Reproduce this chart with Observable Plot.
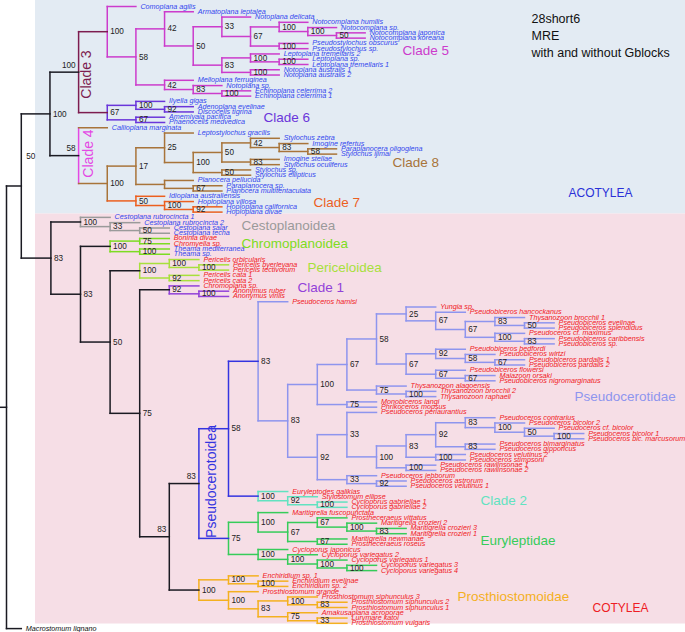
<!DOCTYPE html>
<html><head><meta charset="utf-8">
<script src="https://cdn.jsdelivr.net/npm/d3@7"></script>
<script src="https://cdn.jsdelivr.net/npm/@observablehq/plot@0.6"></script>
<style>html,body{margin:0;padding:0;background:#fff;}#chart svg{display:block;}</style>
</head><body><div id="chart"></div>
<script>
// ---------------- DATA: tree topology (Newick pieces, support values, clade tags) ----------------
const clade5 = "(Comoplana_agilis,((Armatoplana_leptalea,((Notoplana_delicata,((Notocomplana_humilis,(Notocomplana_sp.,(Notocomplana_japonica,Notocomplana_koreana)50)100)100,(Pseudostylochus_obscurus,Pseudostylochus_sp.)100)67)33,((Leptoplana_tremellaris_2,(Leptoplana_sp.,Leptoplana_tremellaris_1)100)100,(Notoplana_australis_1,Notoplana_australis_2)100)83)50)42,(Melloplana_ferruginea,(Notoplana_sp.,(Echinoplana_celerrima_2,Echinoplana_celerrima_1)100)83)42)58)100@clade5";
const clade6 = "((Ilyella_gigas,(Adenoplana_evelinae,Discocelis_tigrina)92)100,(Amemiyaia_pacifica,Phaenocelis_medvedica)67)67@clade6";
const clade8 = "((Leptostylochus_gracilis,(((Stylochus_zebra,(Imogine_refertus,(Paraplanocera_oligoglena,Stylochus_ijimai)58)83)42,(Imogine_stellae,Stylochus_oculiferus)83)50,(Stylochus_sp.,Stylochus_ellipticus)50)100)25,(Planocera_pellucida,(Paraplanocera_sp.,Planocera_multitentaculata)67))17@clade8";
const clade7 = "(Idioplana_australiensis,(Hoploplana_villosa,(Hoploplana_californica,Hoploplana_divae)92)100)50@clade7";
const acotylea = `((${clade5},${clade6})100@clade3,(Callioplana_marginata,(${clade8},${clade7})100)58@clade4)100@aco`;

const cestoplanoidea = "(Cestoplana_rubrocincta_1,(Cestoplana_rubrocincta_2,(Cestoplana_salar,Cestoplana_techa)50)33)100@cesto";
const chromoplanoidea = "((Boninia_divae,Chromyella_sp.)75,(Theama_mediterranea,Theama_sp.)100@theama)100@chromo";
const periceloidea = "((Pericelis_orbicularis,(Pericelis_byerleyana,Pericelis_tectivorum)100)100,(Pericelis_cata_1,Pericelis_cata_2)92)100@peric";
const clade1 = "(Chromoplana_sp.,(Anonymus_ruber,Anonymus_virilis)100)92@clade1";
const pb67h = "((Thysanozoon_brocchii_1,(Pseudobiceros_evelinae,Pseudobiceros_splendidus)50)83,(Pseudoceros_cf._maximus,(Pseudobiceros_caribbensis,Pseudobiceros_sp.)83)100)67";
const pb67f = "((Pseudobiceros_bedfordi,(Pseudobiceros_wirtzi,(Pseudobiceros_pardalis_1,Pseudobiceros_pardalis_2)67)58)92,(Pseudobiceros_flowersi,(Maiazoon_orsaki,Pseudobiceros_nigromarginatus)67)67)67";
const pb58 = `((Yungia_sp.,(Pseudobiceros_hancockanus,${pb67h})67)25,${pb67f})58`;
const pb100 = `((${pb58},(Thysanozoon_alagoensis,(Thysanozoon_brocchii_2,Thysanozoon_raphaeli)100)75)67,(Monobiceros_langi,Phrikoceros_mopsus)75)100`;
const ps92 = "((Pseudoceros_contrarius,(Pseudoceros_bicolor_2,(Pseudoceros_cf._bicolor,(Pseudoceros_bicolor_1,Pseudoceros_bic._marcusorum)100)50)100)83,(Pseudoceros_bimarginatus,Pseudoceros_gipporicus)83)92";
const ps33a = `(Pseudoceros_periaurantius,((${ps92},(Pseudoceros_velutinus_2,Pseudoceros_stimpsoni)100)83,(Pseudoceros_rawlinsonae_1,Pseudoceros_rawlinsonae_2)100)100)33`;
const ps33b = "(Pseudoceros_jebborum,(Pseudoceros_astrorum,Pseudoceros_velutinus_1)92)33";
const pseudocerotidae = `(Pseudoceros_hamisi,(${pb100},(${ps33a},${ps33b})92)83)83@pcidae`;
const clade2 = "(Euryleptodes_galikias,(Stylostomum_ellipse,(Cycloporus_gabriellae_1,Cycloporus_gabriellae_2)100)92)100@clade2";
const euryleptidae = "((Maritigrella_fuscopunctata,((Prostheceraeus_vittatus,(Maritigrella_crozieri_2,(Maritigrella_crozieri_3,Maritigrella_crozieri_1)83)100)67,(Maritigrella_newmanae,Prostheceraeus_roseus)67)67)100,(Cycloporus_japonicus,(Cycloporus_variegatus_2,(Cycloporus_variegatus_1,(Cycloporus_variegatus_3,Cycloporus_variegatus_4)100)100)100)100)75@eury";
const prosthiostomoidae = "((Enchiridium_sp._1,(Enchiridium_evelinae,Enchiridium_sp._2)100)100,(Prosthiostomum_grande,((Prosthiostomum_siphunculus_3,(Prosthiostomum_siphunculus_2,Prosthiostomum_siphunculus_1)83)100,(Amakusaplana_acroporae,(Lurymare_katoi,Prosthiostomum_vulgaris)33)75)83)100)100@prost";
const pseudocerotoidea = `((${pseudocerotidae},${clade2})58,${euryleptidae})83@pcoidea`;
const cotylea = `(${cestoplanoidea},(${chromoplanoidea},(${periceloidea},(${clade1},(${pseudocerotoidea},${prosthiostomoidae})83@n83c)75)50)83)83@cot`;
const treeNewick = `((${acotylea},${cotylea})50@ingroup,Macrostomum_lignano)`;

// clade names (annotations) and their colours
const cladeNames = ["Clade 5","Clade 6","Clade 8","Clade 7","Cestoplanoidea","Chromoplanoidea","Periceloidea","Clade 1","Pseudocerotidae","Clade 2","Euryleptidae","Prosthiostomoidae","ACOTYLEA","COTYLEA"];
const cladeColors = ["#cc3ccc","#6a36da","#a8743a","#ec5f1f","#9a9a9a","#7ddc22","#a8e03c","#9242d9","#8e95ee","#62e2c0","#36cc5a","#f4b01f","#2a30d8","#ee1c24"];
const barNames = ["Clade 3","Clade 4","Pseudocerotoidea"];
const barColors = ["#7d1c4f","#e448e4","#3434e0"];
const titleLines = ["28short6","MRE","with and without Gblocks"];

// ---------------- styles ----------------
const BLACK = "#1a1a22";
const branchStyle = {
  clade3:{sub:"#7d1c4f"}, clade5:{sub:"#cc3ccc"}, clade6:{sub:"#6a36da"},
  clade4:{sub:"#a8743a", bar:"#e448e4"}, clade8:{sub:"#a8743a"}, clade7:{sub:"#ec5f1f", own:"#ec5f1f"},
  cesto:{sub:"#9a9a9a"}, chromo:{sub:"#7ddc22"}, peric:{sub:"#a8e03c"}, clade1:{sub:"#9242d9"},
  pcoidea:{sub:"#3434e0"}, pcidae:{sub:"#8e95ee"}, clade2:{sub:"#62e2c0"}, eury:{sub:"#36cc5a"}, prost:{sub:"#f4b01f"}
};
const textStyle = {aco:"#3347ee", cot:"#f0201e", cesto:"#3347ee", theama:"#3347ee"};
const leftLabels = new Set(["clade3","clade4","pcoidea","n83c"]);
const raisedLabels = new Set(["ingroup"]);

// ---------------- parse & layout ----------------
function parseNewick(s){
  s = s.replace(/\s+/g,""); let i=0;
  function node(){
    const n={children:[]};
    if(s[i]==="("){ i++; n.children.push(node()); while(s[i]===","){i++; n.children.push(node());} i++; }
    let lab=""; while(i<s.length && !",()".includes(s[i])) lab+=s[i++];
    if(n.children.length){ const [sup,tag]=lab.split("@"); n.support=sup||""; n.tag=tag||null; }
    else n.name=lab.replace(/_/g," ");
    return n;
  }
  return node();
}
const root = parseNewick(treeNewick);
const X0=6, STEP=29.6, ACO=0.968, Y0=6, LEAF=5.272;
let leafCount=0; const nodes=[];
function layout(n, depth, parent, inAco, sub, tcol){
  n.parent=parent; n.depth=depth; nodes.push(n);
  const st = branchStyle[n.tag]||{};
  n.hcolor = st.own || sub;
  n.sub = st.sub || sub;
  n.vcolor = st.bar || n.sub;
  n.tcol = textStyle[n.tag] || tcol;
  n.px = X0 + depth*STEP;
  if(!n.children.length){ leafCount++; n.py = Y0 + (leafCount-1)*LEAF; return; }
  for(const c of n.children){
    const a = inAco || c.tag==="aco";
    const len = parent===null ? 0.5 : (a ? ACO : 1);
    layout(c, depth+len, n, a, n.sub, n.tcol);
  }
  n.py = (n.children[0].py + n.children[n.children.length-1].py)/2;
}
layout(root, 0, null, false, BLACK, "#111");

const hsegs = nodes.map(n=>({x1: n.parent? n.parent.px : 0, x2:n.px, y:n.py, c:n.hcolor}));
const vsegs = nodes.filter(n=>n.children.length).map(n=>({x:n.px, y1:n.children[0].py, y2:n.children[n.children.length-1].py, c:n.vcolor}));
const leaves = nodes.filter(n=>!n.children.length);
const supports = nodes.filter(n=>n.children.length && n.support);
const supRight = supports.filter(n=>!leftLabels.has(n.tag) && !raisedLabels.has(n.tag));
const supLeft = supports.filter(n=>leftLabels.has(n.tag));
const supRaised = supports.filter(n=>raisedLabels.has(n.tag));

// annotation placement (px)
const cladePos = [[402,50],[263,117],[392,162],[313,202],[241,225],[241,243],[307,267],[297,287],[574,396],[480,500],[480,540],[457,596],[568,193],[592,608]];
const cladeSize = [13.5,13.5,13.5,13.5,13.5,13.5,13.5,13.5,13.5,13.5,13.5,13.5,12,12];
const cladeLabels = cladeNames.map((t,i)=>({t, c:cladeColors[i], x:cladePos[i][0], y:cladePos[i][1], s:cladeSize[i]}));
const barPos = [[86,74],[88,153],[211,481]];
const barLabels = barNames.map((t,i)=>({t, c:barColors[i], x:barPos[i][0], y:barPos[i][1]}));
const titles = titleLines.map((t,i)=>({t, x:531, y:18+i*17}));
const regions = [{x1:35,x2:685,y1:0,y2:213.5,c:"#e3ebf3"},{x1:35,x2:685,y1:213.5,y2:623.5,c:"#f6dee6"}];

const FONT = "'Liberation Sans', Arial, Helvetica, sans-serif";
const chart = Plot.plot({
  width:685, height:632, margin:0,
  x:{domain:[0,685], range:[0,685], axis:null},
  y:{domain:[0,632], range:[0,632], axis:null},
  color:{type:"identity"},
  style:{fontFamily:FONT, background:"#fff"},
  marks:[
    Plot.rect(regions,{x1:"x1",x2:"x2",y1:"y1",y2:"y2",fill:"c"}),
    Plot.link(vsegs,{x1:"x",x2:"x",y1:"y1",y2:"y2",stroke:"c",strokeWidth:1.5,strokeLinecap:"square"}),
    Plot.link(hsegs,{x1:"x1",x2:"x2",y1:"y",y2:"y",stroke:"c",strokeWidth:1.5,strokeLinecap:"square"}),
    Plot.text(leaves,{x:d=>d.px,y:d=>d.py,text:"name",dx:4.5,dy:-0.3,textAnchor:"start",lineAnchor:"middle",fill:d=>d.tcol,fontSize:7.2,fontStyle:"italic",fontFamily:FONT}),
    Plot.text(supRight,{x:d=>d.px,y:d=>d.py,text:"support",dx:3,textAnchor:"start",lineAnchor:"middle",fill:"#222",fontSize:8.2,fontFamily:FONT}),
    Plot.text(supLeft,{x:d=>d.px,y:d=>d.py,text:"support",dx:-3,dy:-7,textAnchor:"end",lineAnchor:"middle",fill:"#222",fontSize:8.2,fontFamily:FONT}),
    Plot.text(supRaised,{x:d=>d.px,y:d=>d.py,text:"support",dx:5,dy:-30,textAnchor:"start",lineAnchor:"middle",fill:"#222",fontSize:8.2,fontFamily:FONT}),
    Plot.text(cladeLabels,{x:"x",y:"y",text:"t",fill:"c",fontSize:d=>d.s,textAnchor:"start",lineAnchor:"middle",fontFamily:FONT}),
    Plot.text(barLabels,{x:"x",y:"y",text:"t",fill:"c",fontSize:14,rotate:-90,textAnchor:"middle",lineAnchor:"middle",fontFamily:FONT}),
    Plot.text(titles,{x:"x",y:"y",text:"t",fill:"#111",fontSize:12.5,textAnchor:"start",lineAnchor:"middle",fontFamily:FONT})
  ]
});
document.getElementById("chart").appendChild(chart);
</script></body></html>
